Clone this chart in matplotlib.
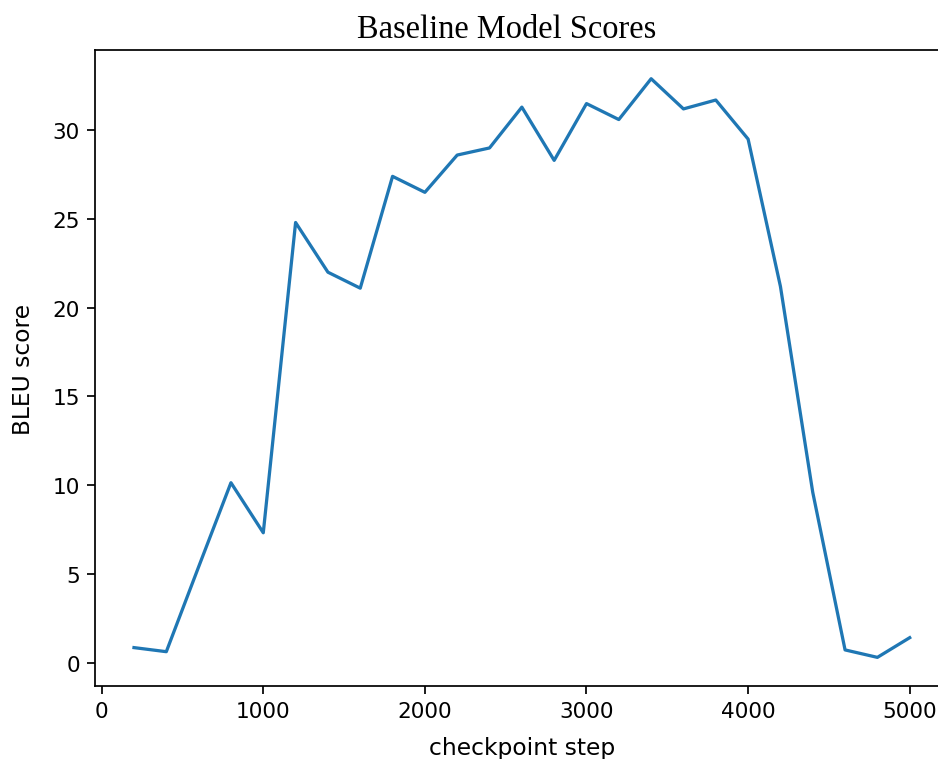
import matplotlib
matplotlib.use("Agg")
import matplotlib.pyplot as plt

steps = [200, 400, 600, 800, 1000, 1200, 1400, 1600, 1800, 2000, 2200, 2400, 2600,
         2800, 3000, 3200, 3400, 3600, 3800, 4000, 4200, 4400, 4600, 4800, 5000]
bleu = [0.85, 0.62, 5.4, 10.14, 7.32, 24.8, 22.0, 21.1, 27.4, 26.5, 28.6, 29.0, 31.3,
        28.3, 31.5, 30.6, 32.9, 31.2, 31.7, 29.5, 21.2, 9.6, 0.72, 0.30, 1.41]

title = "Baseline Model Scores"
xlabel = "checkpoint step"
ylabel = "BLEU score"

dpi = 156
fig = plt.figure(figsize=(938 / dpi, 760 / dpi), dpi=dpi)
ax = fig.add_axes([95.2 / 938, (760 - 687.3) / 760, 853.3 / 938, 636.5 / 760])
ax.plot(steps, bleu, color="#1f77b4")
ax.set_xlabel(xlabel, fontsize=10.8, labelpad=6.5)
ax.set_ylabel(ylabel, fontsize=10.8, labelpad=8)
ax.set_title(title, family=["Liberation Serif", "DejaVu Serif"], fontsize=15, x=0.482)
fig.savefig("out.png", dpi=dpi)
